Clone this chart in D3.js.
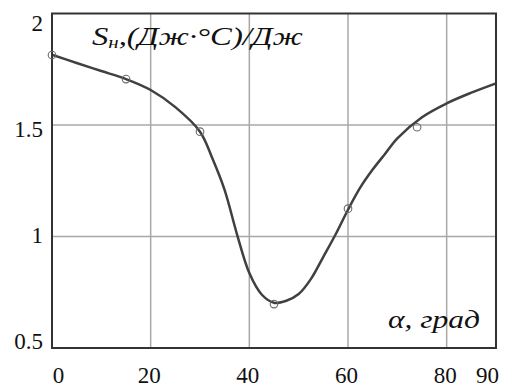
<!DOCTYPE html>
<html>
<head>
<meta charset="utf-8">
<script src="https://cdn.jsdelivr.net/npm/d3@7"></script>
<style>
  html, body { margin: 0; padding: 0; background: #fff; }
  svg { display: block; }
  text { font-family: "Liberation Serif", "Tinos", "DejaVu Serif", "Noto Serif", serif; }
</style>
</head>
<body>
<svg id="chart" width="510" height="388"></svg>
<script>
// Smoothed curve S_н(α)
const curveAngles = [0, 5, 10, 15, 20, 25, 30, 32.5, 35, 37.5, 40, 42.5, 45, 47.5, 50, 52.5, 55, 57.5, 60, 62.5, 65, 67.5, 70, 75, 80, 85, 90];
const curveValues = [1.815, 1.778, 1.742, 1.706, 1.657, 1.58, 1.47, 1.351, 1.208, 1.01, 0.836, 0.74, 0.703, 0.712, 0.742, 0.81, 0.909, 1.01, 1.12, 1.22, 1.30, 1.37, 1.44, 1.535, 1.597, 1.645, 1.687];

// Measured points
const pointAngles = [0, 15, 30, 45, 60, 74];
const pointValues = [1.814, 1.706, 1.47, 0.697, 1.125, 1.49];

// Axis ticks
const xTicks = [0, 20, 40, 60, 80, 90];
const yTicks = [0.5, 1, 1.5, 2];
const xGrid = [20, 40, 60, 80];
const yGrid = [1, 1.5];

const svg = d3.select("#chart");
const plotL = 52, plotR = 496, plotT = 13.5, plotB = 348;

const x = d3.scaleLinear().domain([0, 90]).range([plotL, plotR]);
const y = d3.scaleLinear().domain([0.5, 2]).range([plotB, plotT]);
// y tick labels sit inside the frame height, spread a little less than the grid
const yLabel = d3.scaleLinear().domain([0.5, 2]).range([341, 22.5]);

// grid
svg.append("g").selectAll("line").data(xGrid).join("line")
  .attr("x1", d => x(d)).attr("x2", d => x(d))
  .attr("y1", plotT).attr("y2", plotB)
  .attr("stroke", "#a8a8a8").attr("stroke-width", 1.5);
svg.append("g").selectAll("line").data(yGrid).join("line")
  .attr("x1", plotL).attr("x2", plotR)
  .attr("y1", d => y(d)).attr("y2", d => y(d))
  .attr("stroke", "#a8a8a8").attr("stroke-width", 1.5);

// curve
const line = d3.line()
  .x((d, i) => x(curveAngles[i]))
  .y(d => y(d))
  .curve(d3.curveCatmullRom.alpha(0.5));
svg.append("path").datum(curveValues)
  .attr("d", line)
  .attr("fill", "none")
  .attr("stroke", "#404040")
  .attr("stroke-width", 2.5)
  .attr("stroke-linejoin", "round");

// frame
svg.append("rect")
  .attr("x", plotL).attr("y", plotT)
  .attr("width", plotR - plotL).attr("height", plotB - plotT)
  .attr("fill", "none").attr("stroke", "#333").attr("stroke-width", 2);

// markers
svg.append("g").selectAll("circle").data(pointValues).join("circle")
  .attr("cx", (d, i) => x(pointAngles[i]))
  .attr("cy", d => y(d))
  .attr("r", 3.8)
  .attr("fill", "none")
  .attr("stroke", "#6a6a6a")
  .attr("stroke-width", 1.1);

// tick labels
svg.append("g").selectAll("text").data(yTicks).join("text")
  .attr("x", 43)
  .attr("y", d => yLabel(d))
  .attr("dy", "0.36em")
  .attr("text-anchor", "end")
  .attr("font-size", 23)
  .attr("fill", "#111")
  .text(d => d === 0.5 ? "0.5" : String(d));

svg.append("g").selectAll("text").data(xTicks).join("text")
  .attr("x", d => d === 0 ? x(d) + 6.5 : d === 90 ? x(d) - 8.5 : x(d) - 1.5)
  .attr("y", 383)
  .attr("text-anchor", "middle")
  .attr("font-size", 23)
  .attr("fill", "#111")
  .text(d => String(d));

// axis titles
const yTitle = svg.append("text")
  .attr("x", 92).attr("y", 45)
  .attr("font-style", "italic")
  .attr("font-size", 25)
  .attr("fill", "#111")
  .attr("textLength", 211)
  .attr("lengthAdjust", "spacingAndGlyphs");
yTitle.append("tspan").text("S");
yTitle.append("tspan").attr("font-size", 16).attr("dy", 3).text("н");
yTitle.append("tspan").attr("dy", -3).text(",(Дж·°C)/Дж");

svg.append("text")
  .attr("x", 388).attr("y", 328)
  .attr("font-style", "italic")
  .attr("font-size", 25)
  .attr("fill", "#111")
  .attr("textLength", 92)
  .attr("lengthAdjust", "spacingAndGlyphs")
  .text("α, град");
</script>
</body>
</html>
